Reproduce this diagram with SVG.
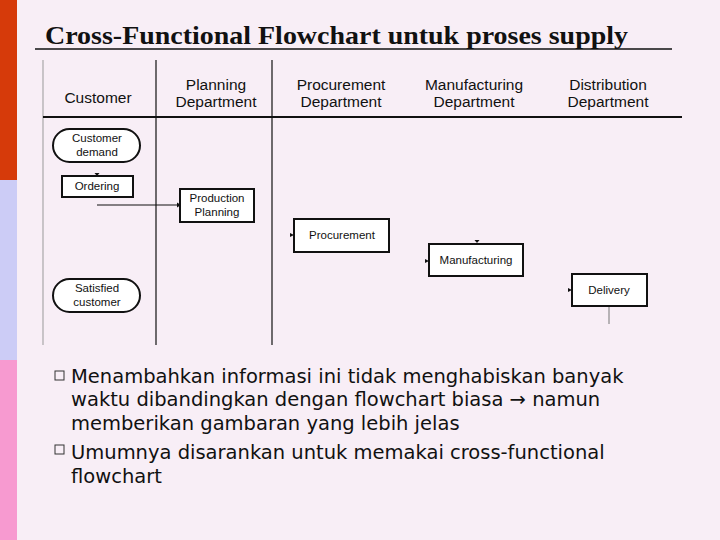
<svg xmlns="http://www.w3.org/2000/svg" width="720" height="540" viewBox="0 0 720 540">
<style>
.h{font-family:"Liberation Sans",Arial,sans-serif;font-size:15.5px;fill:#111;text-anchor:middle}
.n{font-family:"Liberation Sans",Arial,sans-serif;font-size:11.5px;fill:#111;text-anchor:middle}
.b{fill:#fff;stroke:#111;stroke-width:2}
.t{font-family:"DejaVu Sans",sans-serif;font-size:19.5px;fill:#111}
.a{fill:#111}
</style>
<rect width="720" height="540" fill="#F8EEF6"/>
<rect x="0" y="0" width="17" height="180" fill="#D63A0A"/>
<rect x="0" y="180" width="17" height="180" fill="#CCCCF6"/>
<rect x="0" y="360" width="17" height="180" fill="#F79AD0"/>
<text x="45" y="44" font-family="Liberation Serif,serif" font-size="25" font-weight="bold" fill="#111" textLength="583" lengthAdjust="spacingAndGlyphs">Cross-Functional Flowchart untuk proses supply</text>
<line x1="35" y1="49" x2="672" y2="49" stroke="#111" stroke-width="1.5"/>
<g id="lanes" stroke="#111">
<line x1="43" y1="60" x2="43" y2="345" stroke="#999" stroke-width="1"/>
<line x1="156" y1="60" x2="156" y2="345" stroke-width="1.2"/>
<line x1="272" y1="60" x2="272" y2="345" stroke-width="1.2"/>
<line x1="43" y1="117" x2="682" y2="117" stroke-width="2"/>
</g>
<g id="headers">
<text class="h" x="98" y="103">Customer</text>
<text class="h" x="216" y="90">Planning</text><text class="h" x="216" y="107">Department</text>
<text class="h" x="341" y="90">Procurement</text><text class="h" x="341" y="107">Department</text>
<text class="h" x="474" y="90">Manufacturing</text><text class="h" x="474" y="107">Department</text>
<text class="h" x="608" y="90">Distribution</text><text class="h" x="608" y="107">Department</text>
</g>
<g id="connectors" stroke="#111">
<line x1="97" y1="205" x2="178" y2="205" stroke-width="1"/>
<path class="a" stroke="none" d="M181,205 l-4,-2.5 v5z"/>
<path class="a" stroke="none" d="M97,176 l-2.5,-3 h5z"/>
<path class="a" stroke="none" d="M97,282 l-2.5,-3 h5z"/>
<path class="a" stroke="none" d="M294,235 l-4,-2 v4z"/>
<path class="a" stroke="none" d="M477,243 l-2.5,-3 h5z"/>
<path class="a" stroke="none" d="M429,261 l-4,-2 v4z"/>
<path class="a" stroke="none" d="M572,290 l-4,-2 v4z"/>
<line x1="609" y1="307" x2="609" y2="324" stroke="#777" stroke-width="1"/>
</g>
<g id="customer-demand"><rect class="b" x="53" y="129" width="87" height="33" rx="16.5"/><text class="n" x="97" y="142">Customer</text><text class="n" x="97" y="156">demand</text></g>
<g id="ordering"><rect class="b" x="62" y="176" width="71" height="21"/><text class="n" x="97" y="190">Ordering</text></g>
<g id="production-planning"><rect class="b" x="180" y="189" width="74" height="33"/><text class="n" x="217" y="202">Production</text><text class="n" x="217" y="216">Planning</text></g>
<g id="procurement"><rect class="b" x="294" y="219" width="95" height="33"/><text class="n" x="342" y="239">Procurement</text></g>
<g id="manufacturing"><rect class="b" x="429" y="244" width="94" height="32"/><text class="n" x="476" y="264">Manufacturing</text></g>
<g id="delivery"><rect class="b" x="572" y="274" width="75" height="32"/><text class="n" x="609" y="294">Delivery</text></g>
<g id="satisfied"><rect class="b" x="53" y="279" width="87" height="33" rx="16.5"/><text class="n" x="97" y="292">Satisfied</text><text class="n" x="97" y="306">customer</text></g>
<g id="bullets">
<rect x="55" y="371" width="9" height="9" fill="none" stroke="#333" stroke-width="1"/>
<rect x="55" y="445" width="9" height="9" fill="none" stroke="#333" stroke-width="1"/>
<text class="t" x="71" y="383">Menambahkan informasi ini tidak menghabiskan banyak</text>
<text class="t" x="71" y="406">waktu dibandingkan dengan flowchart biasa → namun</text>
<text class="t" x="71" y="430">memberikan gambaran yang lebih jelas</text>
<text class="t" x="71" y="459">Umumnya disarankan untuk memakai cross-functional</text>
<text class="t" x="71" y="483">flowchart</text>
</g>
</svg>
